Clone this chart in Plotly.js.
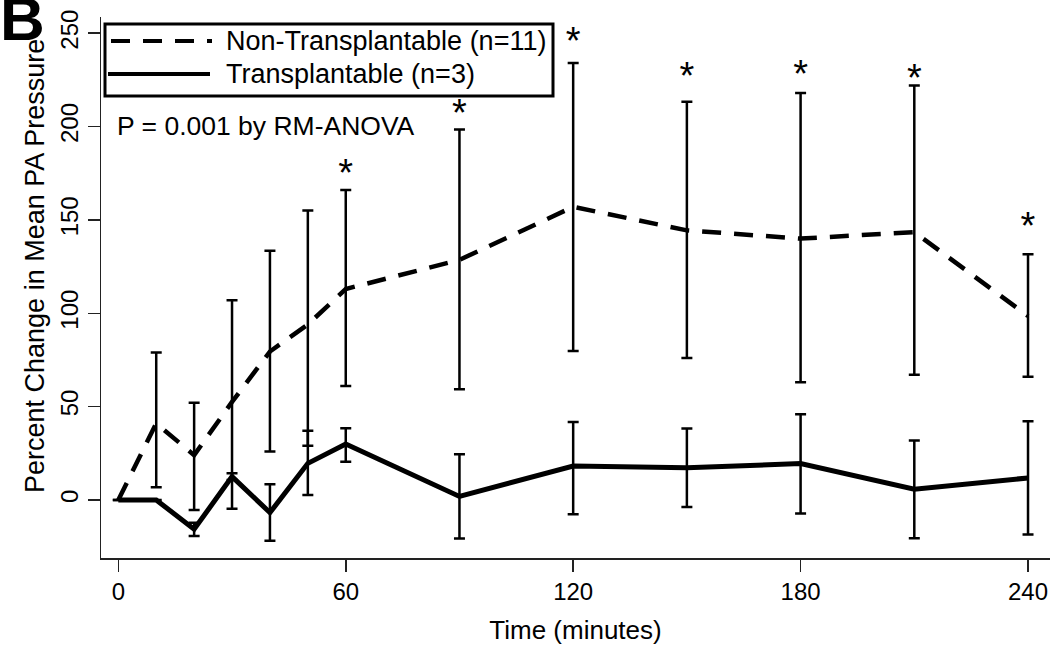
<!DOCTYPE html>
<html>
<head>
<meta charset="utf-8">
<script src="https://cdn.plot.ly/plotly-3.0.1.min.js"></script>
<style>
  html, body { margin: 0; padding: 0; background: #fff; }
  #myDiv { width: 1050px; height: 645px; }
</style>
</head>
<body>
<div id="myDiv"></div>
<script>
// time points (minutes)
let times = [0, 10, 20, 30, 40, 50, 60, 90, 120, 150, 180, 210, 240];

// Non-Transplantable (n=11): mean and error bar ends, percent change
let nonMean  = [0, 41, 24, 52.5, 79.5, 94, 113, 128.6, 157, 144.4, 140, 143.5, 98.5];
let nonUpper = [null, 79, 52, 107, 133.5, 155, 166, 198.4, 234, 213.3, 218, 222, 131.6];
let nonLower = [null, 6.8, -5.4, -4.7, 26, 29, 61, 59.3, 79.8, 76, 63, 67, 66];

// Transplantable (n=3)
let trMean  = [0, 0, -15.7, 12.5, -6.8, 19.6, 30, 1.9, 18.2, 17.2, 19.5, 5.7, 11.8];
let trUpper = [null, null, -12.2, 14.3, 8.4, 37, 38.4, 24.5, 41.7, 38.3, 45.9, 31.9, 42.1];
let trLower = [null, null, -19.3, 10.7, -21.8, 2.7, 20.5, -20.7, -7.7, -3.8, -7.3, -20.5, -18.5];

// significant time points (*) and the level each star is anchored at
let starTimes = [60, 90, 120, 150, 180, 210, 240];
let starLevel = [173, 205.2, 244.2, 225.2, 226.1, 224.2, 145];

let xTicks = [0, 60, 120, 180, 240];
let yTicks = [0, 50, 100, 150, 200, 250];

let legendNames = ['Non-Transplantable (n=11)', 'Transplantable (n=3)'];
let pText = 'P = 0.001 by RM-ANOVA';

function errUp(mean, upper) {
    return mean.map((m, i) => upper[i] == null ? null : upper[i] - m);
}
function errDown(mean, lower) {
    return mean.map((m, i) => lower[i] == null ? null : m - lower[i]);
}

const FONT = 'Liberation Sans, Arial, sans-serif';
const DASH = '19px,13px';

// plot area in pixels, used to place the hand drawn legend
const L = 101, T = 17, R = 0, B = 87;
const W = 1050 - L - R, H = 645 - T - B;
function px(x) { return (x - L) / W; }
function py(y) { return 1 - (y - T) / H; }

let traces = [
    {
        type: 'scatter',
        mode: 'lines',
        x: times,
        y: nonMean,
        name: legendNames[0],
        showlegend: false,
        line: {color: '#000', width: 4.5, dash: DASH},
        error_y: {
            type: 'data',
            symmetric: false,
            array: errUp(nonMean, nonUpper),
            arrayminus: errDown(nonMean, nonLower),
            color: '#000',
            thickness: 2.5,
            width: 5.5
        }
    },
    {
        type: 'scatter',
        mode: 'lines',
        x: times,
        y: trMean,
        name: legendNames[1],
        showlegend: false,
        line: {color: '#000', width: 5},
        error_y: {
            type: 'data',
            symmetric: false,
            array: errUp(trMean, trUpper),
            arrayminus: errDown(trMean, trLower),
            color: '#000',
            thickness: 2.5,
            width: 5.5
        }
    },
    {
        type: 'scatter',
        mode: 'text',
        x: starTimes,
        y: starLevel,
        text: starTimes.map(() => '*'),
        textposition: 'middle center',
        textfont: {family: FONT, size: 38, color: '#000'},
        showlegend: false,
        hoverinfo: 'skip'
    }
];

let layout = {
    width: 1050,
    height: 645,
    margin: {l: L, r: R, t: T, b: B},
    paper_bgcolor: '#fff',
    plot_bgcolor: '#fff',
    showlegend: false,
    font: {family: FONT, color: '#000', size: 24},
    xaxis: {
        range: [-4.57, 245.8],
        tickvals: xTicks,
        ticktext: xTicks.map(String),
        showgrid: false,
        zeroline: false,
        showline: true,
        linecolor: '#222',
        linewidth: 1.5,
        ticks: 'outside',
        ticklen: 12,
        tickwidth: 1.5,
        tickcolor: '#222',
        tickfont: {size: 24},
        title: {text: 'Time (minutes)', font: {size: 26}, standoff: 16}
    },
    yaxis: {
        range: [-31.1, 258.7],
        tickvals: yTicks,
        ticktext: yTicks.map(String),
        tickangle: -90,
        showgrid: false,
        zeroline: false,
        showline: true,
        linecolor: '#222',
        linewidth: 1.5,
        ticks: 'outside',
        ticklen: 12,
        tickwidth: 1.5,
        tickcolor: '#222',
        tickfont: {size: 24}
    },
    shapes: [
        // legend box
        {type: 'rect', xref: 'paper', yref: 'paper',
         x0: px(105), x1: px(553), y0: py(24), y1: py(96),
         line: {color: '#000', width: 3}, fillcolor: '#fff'},
        {type: 'line', xref: 'paper', yref: 'paper',
         x0: px(111), x1: px(212), y0: py(41), y1: py(41),
         line: {color: '#000', width: 4, dash: DASH}},
        {type: 'line', xref: 'paper', yref: 'paper',
         x0: px(108), x1: px(210), y0: py(74), y1: py(74),
         line: {color: '#000', width: 4}}
    ],
    annotations: [
        {xref: 'paper', yref: 'paper', x: px(224), y: py(41), xanchor: 'left', yanchor: 'middle',
         text: legendNames[0], showarrow: false, font: {size: 27}},
        {xref: 'paper', yref: 'paper', x: px(224), y: py(74), xanchor: 'left', yanchor: 'middle',
         text: legendNames[1], showarrow: false, font: {size: 27}},
        {xref: 'paper', yref: 'paper', x: px(115), y: py(126), xanchor: 'left', yanchor: 'middle',
         text: pText, showarrow: false, font: {size: 26.5}},
        // y axis title, set a little above the middle as in the original figure
        {xref: 'paper', yref: 'paper', x: px(35), y: py(266), xanchor: 'center', yanchor: 'middle',
         text: 'Percent Change in Mean PA Pressure', textangle: -90, showarrow: false, font: {size: 27}},
        {xref: 'paper', yref: 'paper', x: px(-2), y: py(-18), xanchor: 'left', yanchor: 'top',
         text: '<b>B</b>', showarrow: false, font: {size: 62}}
    ]
};

Plotly.newPlot('myDiv', traces, layout, {displayModeBar: false, staticPlot: true});
</script>
</body>
</html>
